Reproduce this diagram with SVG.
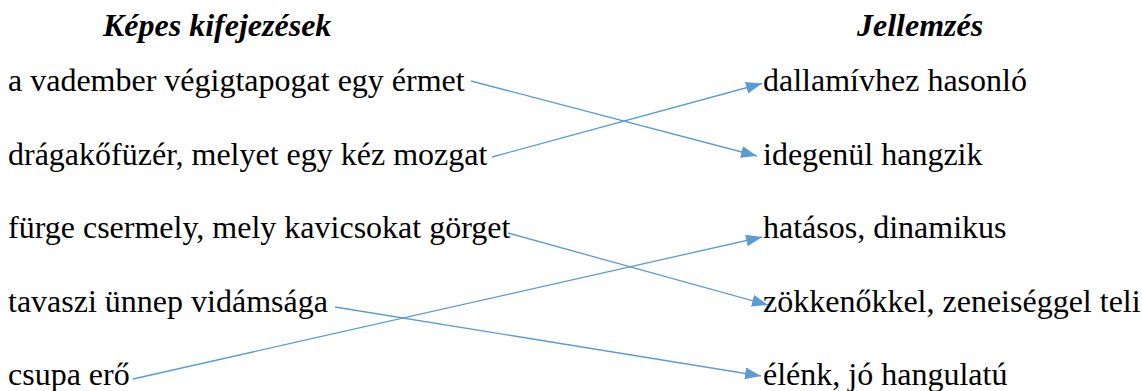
<svg xmlns="http://www.w3.org/2000/svg" width="1142" height="391" viewBox="0 0 1142 391">
<style>
text{font-size:32px;fill:#000}
.h{font-weight:bold;font-style:italic}
.c{stroke:#5B9BD5;stroke-width:1.3;fill:none}
</style>
<defs>
<marker id="ah" markerUnits="userSpaceOnUse" markerWidth="16" markerHeight="12" viewBox="0 0 16 12" refX="16" refY="6" orient="auto">
<path d="M0,0 L16,6 L0,12 Z" fill="#5B9BD5"/>
</marker>
</defs>
<rect width="1142" height="391" fill="#fff"/>
<g font-family="'Liberation Serif', 'Times New Roman', 'DejaVu Serif', serif">
<g id="headers">
<text class="h" x="103" y="36">Képes kifejezések</text>
<text class="h" x="857" y="36">Jellemzés</text>
</g>
<g id="left">
<g id="l1"><text x="8" y="91">a vadember végigtapogat egy érmet</text></g>
<g id="l2"><text x="8" y="164.5">drágakőfüzér, melyet egy kéz mozgat</text></g>
<g id="l3"><text x="8" y="238">fürge csermely, mely kavicsokat görget</text></g>
<g id="l4"><text x="8" y="311.5">tavaszi ünnep vidámsága</text></g>
<g id="l5"><text x="8" y="385">csupa erő</text></g>
</g>
<g id="right">
<g id="r1"><text x="763" y="91">dallamívhez hasonló</text></g>
<g id="r2"><text x="763" y="164.5">idegenül hangzik</text></g>
<g id="r3"><text x="763" y="238">hatásos, dinamikus</text></g>
<g id="r4"><text x="763" y="311.5">zökkenőkkel, zeneiséggel teli</text></g>
<g id="r5"><text x="763" y="385">élénk, jó hangulatú</text></g>
</g>
</g>
<g id="connectors">
<line class="c" x1="471" y1="81" x2="757" y2="156" marker-end="url(#ah)"/>
<line class="c" x1="492" y1="157" x2="762" y2="83.5" marker-end="url(#ah)"/>
<line class="c" x1="508" y1="233" x2="768" y2="305" marker-end="url(#ah)"/>
<line class="c" x1="335" y1="307" x2="761" y2="376" marker-end="url(#ah)"/>
<line class="c" x1="133" y1="379" x2="762" y2="237" marker-end="url(#ah)"/>
</g>
</svg>
